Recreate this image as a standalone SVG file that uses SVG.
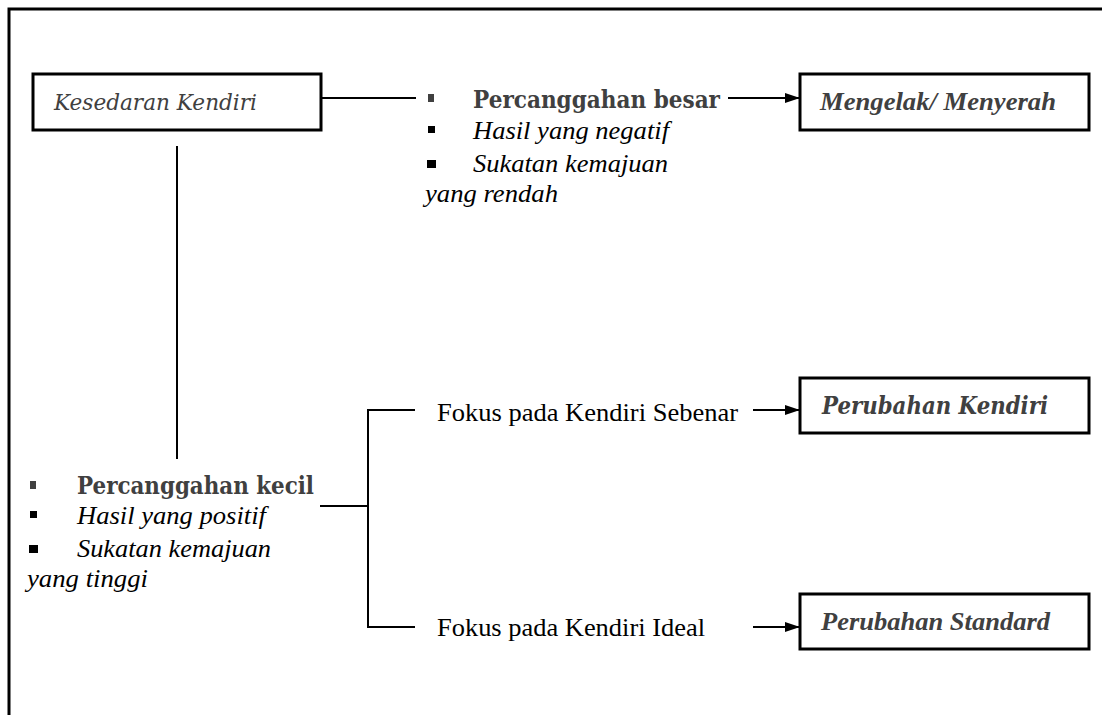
<svg xmlns="http://www.w3.org/2000/svg" width="1102" height="715" viewBox="0 0 1102 715">
<style>
.box{fill:#fff;stroke:#000;stroke-width:3}
.ln{fill:none;stroke:#000;stroke-width:2}
.cam{font-family:"DejaVu Serif","Liberation Serif",serif}
.tms{font-family:"Liberation Serif","Times New Roman",serif}
.gray{fill:#404040}
.blk{fill:#000}
.it{font-style:italic}
.b{font-weight:bold}
</style>
<defs>
<marker id="arr" viewBox="0 0 15 10" refX="15" refY="5" markerWidth="15" markerHeight="10" markerUnits="userSpaceOnUse" orient="auto">
<path d="M0,0 L15,5 L0,10 Z" fill="#000"/>
</marker>
</defs>
<rect width="1102" height="715" fill="#fff"/>
<path d="M9,715 V9 H1102" fill="none" stroke="#000" stroke-width="3"/>
<g id="connectors">
<line class="ln" x1="322" y1="98" x2="416" y2="98"/>
<line class="ln" x1="177" y1="146" x2="177" y2="459"/>
<line class="ln" x1="728" y1="98" x2="800" y2="98" marker-end="url(#arr)"/>
<line class="ln" x1="320" y1="506" x2="368" y2="506"/>
<path class="ln" d="M415,410 H368 V627 H415"/>
<line class="ln" x1="753" y1="410" x2="800" y2="410" marker-end="url(#arr)"/>
<line class="ln" x1="753" y1="627" x2="800" y2="627" marker-end="url(#arr)"/>
</g>
<g id="kesedaran">
<rect class="box" x="33" y="74" width="288" height="56"/>
<text class="cam it gray" x="54" y="110" font-size="23" textLength="203" lengthAdjust="spacingAndGlyphs">Kesedaran Kendiri</text>
</g>
<g id="percanggahan-besar">
<rect x="428" y="94" width="6" height="8" fill="#404040"/>
<text class="cam b gray" x="473" y="108" font-size="24" textLength="247" lengthAdjust="spacingAndGlyphs">Percanggahan besar</text>
<rect x="428" y="126" width="7" height="7" fill="#000"/>
<text class="tms it blk" x="473" y="139" font-size="26" textLength="196" lengthAdjust="spacingAndGlyphs">Hasil yang negatif</text>
<rect x="427" y="160" width="9" height="8" fill="#000"/>
<text class="tms it blk" x="473" y="172" font-size="26" textLength="195" lengthAdjust="spacingAndGlyphs">Sukatan kemajuan</text>
<text class="tms it blk" x="425" y="202" font-size="26" textLength="133" lengthAdjust="spacingAndGlyphs">yang rendah</text>
</g>
<g id="mengelak">
<rect class="box" x="800" y="74" width="289" height="56"/>
<text class="tms it b gray" x="820" y="110" font-size="26" textLength="236" lengthAdjust="spacingAndGlyphs">Mengelak/ Menyerah</text>
</g>
<g id="percanggahan-kecil">
<rect x="30" y="481" width="6" height="8" fill="#404040"/>
<text class="cam b gray" x="77" y="494" font-size="24" textLength="237" lengthAdjust="spacingAndGlyphs">Percanggahan kecil</text>
<rect x="30" y="511" width="7" height="7" fill="#000"/>
<text class="tms it blk" x="77" y="524" font-size="26" textLength="189" lengthAdjust="spacingAndGlyphs">Hasil yang positif</text>
<rect x="29" y="545" width="9" height="8" fill="#000"/>
<text class="tms it blk" x="77" y="557" font-size="26" textLength="194" lengthAdjust="spacingAndGlyphs">Sukatan kemajuan</text>
<text class="tms it blk" x="27" y="587" font-size="26" textLength="121" lengthAdjust="spacingAndGlyphs">yang tinggi</text>
</g>
<g id="fokus-sebenar">
<text class="tms blk" x="437" y="421" font-size="25" textLength="301" lengthAdjust="spacingAndGlyphs">Fokus pada Kendiri Sebenar</text>
</g>
<g id="fokus-ideal">
<text class="tms blk" x="437" y="636" font-size="25" textLength="268" lengthAdjust="spacingAndGlyphs">Fokus pada Kendiri Ideal</text>
</g>
<g id="perubahan-kendiri">
<rect class="box" x="800" y="378" width="289" height="55"/>
<text class="cam it b gray" x="822" y="414" font-size="24" textLength="226" lengthAdjust="spacingAndGlyphs">Perubahan Kendiri</text>
</g>
<g id="perubahan-standard">
<rect class="box" x="800" y="594" width="289" height="55"/>
<text class="tms it b gray" x="821" y="630" font-size="26" textLength="229" lengthAdjust="spacingAndGlyphs">Perubahan Standard</text>
</g>
</svg>
